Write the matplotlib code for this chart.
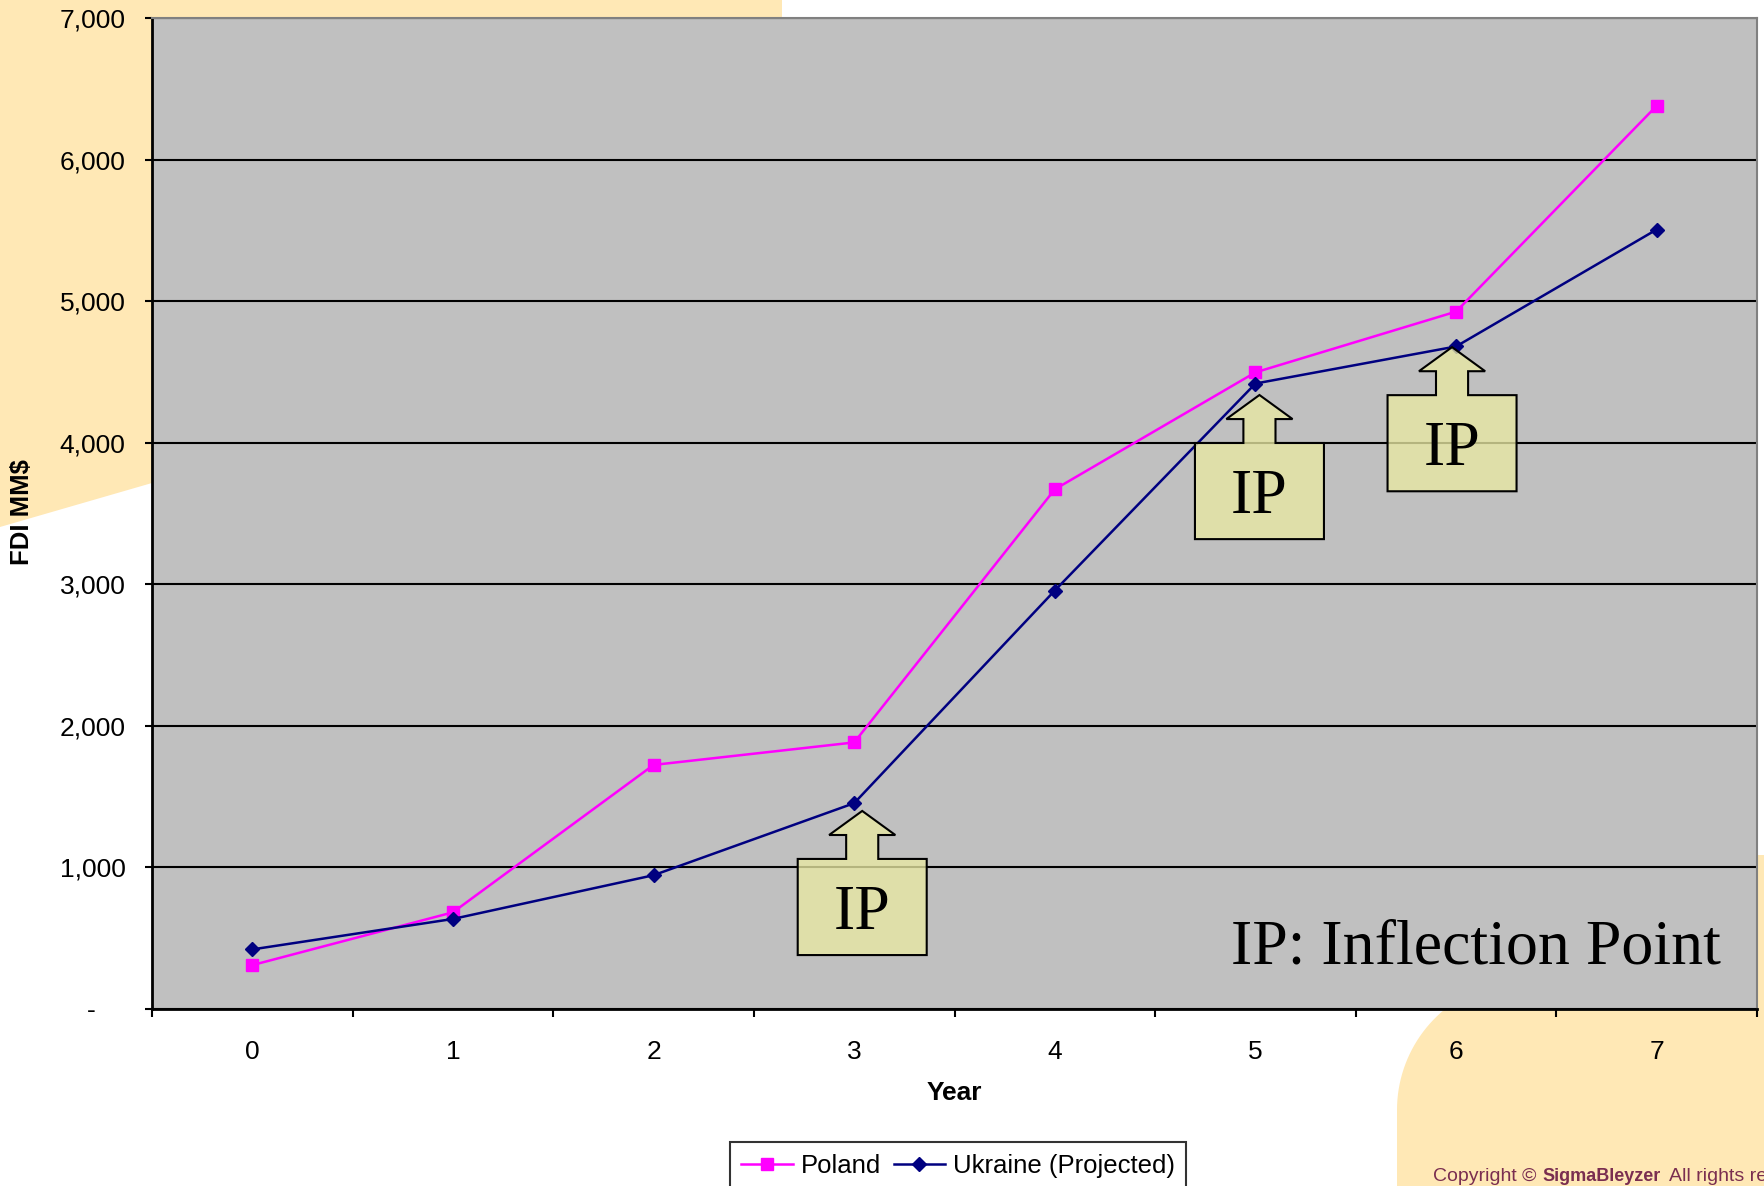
import numpy as np
import matplotlib
matplotlib.use("Agg")
import matplotlib.pyplot as plt
from matplotlib.patches import Polygon, Rectangle
from matplotlib.ticker import FuncFormatter, MultipleLocator, FixedLocator

# data (FDI, MM$)
years = [0, 1, 2, 3, 4, 5, 6, 7]
poland = [310, 683, 1724, 1883, 3671, 4497, 4926, 6380]
ukraine = [421, 636, 945, 1454, 2956, 4418, 4680, 5506]

# inflection point callouts: (year position, value at box top)
ip_x = [3.04, 5.02, 5.98]
ip_top = [1060, 3998, 4336]

W, H = 1764, 1186
plt.rcParams['font.family'] = ['Liberation Sans', 'DejaVu Sans']

fig = plt.figure(figsize=(W / 100, H / 100), dpi=100)
fig.patch.set_facecolor('white')

def px(x, y):
    # pixel position -> figure fraction
    return (x / W, 1 - y / H)

yellow = '#ffe8b5'

## background decoration
tl = Polygon([px(0, 0), px(782, 0), px(782, 300), px(152, 483), px(0, 527)],
             closed=True, transform=fig.transFigure, facecolor=yellow,
             edgecolor='none', zorder=-5)
fig.patches.append(tl)

R = 130
cx, cy = 1527, 1110
ang = np.linspace(np.pi, np.pi / 2, 40)
arc = [px(cx + R * np.cos(a), cy - R * np.sin(a)) for a in ang]
br = Polygon([px(1397, H)] + arc + [px(W, cy - R), px(W, H)], closed=True,
             transform=fig.transFigure, facecolor=yellow, edgecolor='none',
             zorder=-5)
fig.patches.append(br)
strip = Rectangle(px(1757, H), 7 / W, (H - 855) / H, transform=fig.transFigure,
                  facecolor=yellow, edgecolor='none', zorder=-5)
fig.patches.append(strip)

## axes
left, right, top, bottom = 152, 1757, 18, 1009
ax = fig.add_axes([left / W, 1 - bottom / H, (right - left) / W, (bottom - top) / H])
ax.set_facecolor('#c0c0c0')
ax.set_xlim(-0.5, 7.5)
ax.set_ylim(0, 7000)

ax.yaxis.set_major_locator(MultipleLocator(1000))
ax.yaxis.set_major_formatter(FuncFormatter(lambda v, p: '-    ' if v == 0 else '{:,.0f}'.format(v)))
ax.grid(axis='y', color='black', linewidth=1.5)
ax.set_axisbelow(True)

ax.xaxis.set_major_locator(FixedLocator(np.arange(-0.5, 8, 1)))
ax.xaxis.set_major_formatter(FuncFormatter(lambda v, p: ''))
ax.xaxis.set_minor_locator(FixedLocator(years))
ax.xaxis.set_minor_formatter(FuncFormatter(lambda v, p: '%d' % v))
ax.tick_params(axis='x', which='major', direction='out', length=6, width=1.5)
ax.tick_params(axis='x', which='minor', length=0, pad=22, labelsize=19)
ax.tick_params(axis='y', direction='out', length=5, width=1.5, pad=14, labelsize=19)

for s in ['left', 'bottom']:
    ax.spines[s].set_linewidth(2)
    ax.spines[s].set_color('black')
for s in ['top', 'right']:
    ax.spines[s].set_linewidth(1.5)
    ax.spines[s].set_color('#808080')

ax.plot(years, poland, color='#ff00ff', linewidth=1.8, marker='s', markersize=8,
        label='Poland', zorder=3)
ax.plot(years, ukraine, color='#000080', linewidth=1.8, marker='D', markersize=7,
        label='Ukraine (Projected)', zorder=3)

## IP callouts (box with up arrow)
bw, bh = 0.643, 679
shaft, head = 0.08, 0.165
hb, hp = 169, 339
for x0, t in zip(ip_x, ip_top):
    pts = [(x0 - bw / 2, t - bh), (x0 + bw / 2, t - bh), (x0 + bw / 2, t),
           (x0 + shaft, t), (x0 + shaft, t + hb), (x0 + head, t + hb),
           (x0, t + hp), (x0 - head, t + hb), (x0 - shaft, t + hb),
           (x0 - shaft, t), (x0 - bw / 2, t)]
    ax.add_patch(Polygon(pts, closed=True, facecolor=(0.91, 0.91, 0.64, 0.78),
                         edgecolor='black', linewidth=1.5, zorder=4))
    ax.text(x0, t - bh / 2 - 50, 'IP', fontsize=46, family='Liberation Serif',
            ha='center', va='center', zorder=5)

ax.text(7.32, 318, 'IP: Inflection Point', fontsize=46, family='Liberation Serif',
        ha='right', va='baseline', zorder=5)

## labels
fig.text(*px(954, 1093), 'Year', fontsize=19, fontweight='bold', ha='center', va='center')
fig.text(*px(22, 512), 'FDI MM$', fontsize=18.5, fontweight='bold', rotation=90,
         ha='center', va='center')

leg = ax.legend(loc='upper center', bbox_to_anchor=px(958, 1142),
                bbox_transform=fig.transFigure, ncol=2, fontsize=18.5,
                frameon=True, fancybox=False, borderaxespad=0, borderpad=0.45,
                handlelength=2.0, handletextpad=0.3, columnspacing=0.5)
leg.get_frame().set_edgecolor('black')
leg.get_frame().set_linewidth(1.5)
leg.get_frame().set_facecolor('white')

maroon = '#7a2e50'
fig.text(*px(1433, 1181), 'Copyright \u00a9', fontsize=14, color=maroon, va='baseline')
fig.text(*px(1542, 1181), 'SigmaBleyzer', fontsize=13, color=maroon, fontweight='bold', va='baseline')
fig.text(*px(1669, 1181), 'All rights reserved', fontsize=14, color=maroon, va='baseline')

fig.savefig('out.png', dpi=100)
